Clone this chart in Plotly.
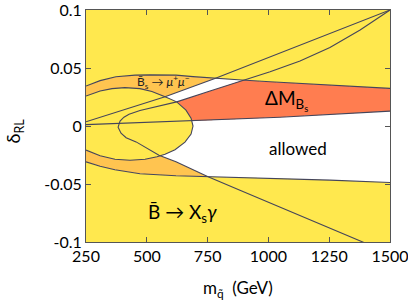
import numpy as np
import plotly.graph_objects as go

# ---------------- data ----------------
x_ticks = [250, 500, 750, 1000, 1250, 1500]
y_ticks = [-0.1, -0.05, 0, 0.05, 0.1]
y_tick_labels = ["-0.1", "-0.05", "0", "0.05", "0.1"]

# outer contour of the B -> Xs gamma allowed band
outer_top_m = [250, 308, 373, 452, 513, 620, 690, 780, 890, 1007, 1253, 1500]
outer_top_d = [0.0345, 0.0391, 0.0424, 0.0439, 0.0441, 0.0439, 0.0426, 0.0410, 0.0396, 0.0381, 0.0353, 0.0324]
outer_bot_m = [250, 308, 369, 472, 620, 752, 1007, 1253, 1500]
outer_bot_d = [-0.0309, -0.0347, -0.0377, -0.0411, -0.0429, -0.0437, -0.0450, -0.0467, -0.0487]

# inner (excluded) loop of B -> Xs gamma
inner_m = [250, 308, 357, 410, 472, 521, 575, 623, 661, 682, 690, 682, 657, 616, 575, 542, 493, 431, 369, 308, 250]
inner_d = [0.0258, 0.0301, 0.0322, 0.0331, 0.0322, 0.0297, 0.0252, 0.0208, 0.0137, 0.0068, -0.0001,
           -0.0070, -0.0139, -0.0204, -0.0243, -0.0265, -0.0286, -0.0295, -0.0286, -0.0256, -0.0208]

# Delta M_Bs boundary lines
lineA_m = [250, 427, 575, 780, 1007, 1253, 1500]
lineA_d = [0.0036, 0.0154, 0.0252, 0.0410, 0.0597, 0.0796, 0.1000]
lineB_m = [250, 472, 719, 1048, 1500]
lineB_d = [0.0012, 0.0029, 0.0046, 0.0076, 0.0128]

# Bs -> mu+ mu- contour (upper and lower branch, both from the vertex)
mumu_up_m = [382, 390, 406, 427, 472, 534, 623, 760, 890, 1007, 1130, 1253, 1377, 1500]
mumu_up_d = [-0.0010, 0.0042, 0.0076, 0.0102, 0.0133, 0.0167, 0.0208, 0.0301, 0.0391, 0.0467, 0.0560,
             0.0676, 0.0827, 0.1000]
mumu_lo_m = [382, 394, 415, 456, 550, 620, 752, 883, 1048, 1212, 1385, 1450]
mumu_lo_d = [-0.0010, -0.0062, -0.0101, -0.0137, -0.0252, -0.0309, -0.0437, -0.0554, -0.0700, -0.0847,
             -0.1000, -0.1055]

# ---------------- styles ----------------
YELLOW = "#FFE84E"
ORANGE = "#FFC450"
RED = "#FF7D50"
WHITE = "#FFFFFF"
LINE = "#45455a"
FONT = "Lato"

# ---------------- region construction ----------------
xs = np.linspace(250, 1500, 2501)
T = np.interp(xs, outer_top_m, outer_top_d)
Bo = np.interp(xs, outer_bot_m, outer_bot_d)
A = np.interp(xs, lineA_m, lineA_d)
B = np.interp(xs, lineB_m, lineB_d)
C = np.interp(xs, mumu_up_m, mumu_up_d)
E = np.interp(xs, mumu_lo_m, mumu_lo_d)


def band_clip(v):
    return np.minimum(np.maximum(v, Bo), T)


def strip(x, top, bot, color):
    return go.Scatter(x=np.concatenate([x, x[::-1]]), y=np.concatenate([top, bot[::-1]]),
                      mode="none", fill="toself", fillcolor=color, hoverinfo="skip",
                      showlegend=False)


fig = go.Figure()
# allowed band (white base)
fig.add_trace(strip(xs, T, Bo, WHITE))
# orange above line A
fig.add_trace(strip(xs, T, band_clip(A), ORANGE))
# orange outside lower branch of Bs->mumu
fig.add_trace(strip(xs, band_clip(E), Bo, ORANGE))
# red: Delta M_Bs excluded
mask = xs >= mumu_up_m[0]
rt = band_clip(C)[mask]
rb = band_clip(B)[mask]
rt = np.maximum(rt, rb)
fig.add_trace(strip(xs[mask], rt, rb, RED))
# inner loop (yellow)
fig.add_trace(go.Scatter(x=inner_m, y=inner_d, mode="none", fill="toself", fillcolor=YELLOW,
                         hoverinfo="skip", showlegend=False))

# boundary lines
mumu_m = list(mumu_up_m[::-1]) + list(mumu_lo_m[1:])
mumu_d = list(mumu_up_d[::-1]) + list(mumu_lo_d[1:])
for mm, dd in [(outer_top_m, outer_top_d), (outer_bot_m, outer_bot_d), (inner_m, inner_d),
               (lineA_m, lineA_d), (lineB_m, lineB_d), (mumu_m, mumu_d)]:
    fig.add_trace(go.Scatter(x=mm, y=dd, mode="lines", line=dict(color=LINE, width=1.1),
                             hoverinfo="skip", showlegend=False))

# labels
fig.add_annotation(x=1122, y=-0.0191, text="allowed", showarrow=False,
                   font=dict(family=FONT, size=17, color="black"))
fig.add_annotation(x=1075, y=0.0223, text="ΔM<sub>B<sub>s</sub></sub>", showarrow=False,
                   font=dict(family=FONT, size=19, color="black"))
fig.add_annotation(x=645, y=-0.0752, text="B\u0304 → X<sub>s</sub><i>γ</i>", showarrow=False,
                   font=dict(family=FONT, size=19, color="black"))
fig.add_annotation(x=567, y=0.0378, text="B\u0304<sub>s</sub> → <i>μ</i><sup>+</sup><i>μ</i><sup>−</sup>",
                   showarrow=False, font=dict(family=FONT, size=12, color="#222"))
# axis titles
fig.add_annotation(xref="paper", yref="paper", x=0.5, y=-0.204, xanchor="center", yanchor="middle",
                   text="m<sub>q\u0303</sub>  (GeV)",
                   showarrow=False, font=dict(family=FONT, size=17, color="black"))
fig.add_annotation(xref="paper", yref="paper", x=-0.234, y=0.48, xanchor="center", yanchor="middle",
                   text="δ<sub>RL</sub>", textangle=-90,
                   showarrow=False, font=dict(family=FONT, size=18, color="black"))

axis_common = dict(showgrid=False, zeroline=False, showline=True, linecolor="#555", linewidth=1,
                   mirror="ticks", ticks="inside", ticklen=5, tickcolor="#555", automargin=False,
                   ticklabeloverflow="allow",
                   tickfont=dict(family=FONT, size=16, color="black"))
fig.update_xaxes(range=[250, 1500], tickvals=x_ticks, ticktext=[str(v) for v in x_ticks], **axis_common)
fig.update_yaxes(range=[-0.1, 0.1], tickvals=y_ticks, ticktext=y_tick_labels, **axis_common)

fig.update_layout(width=408, height=300, margin=dict(l=86, r=18, t=10, b=58),
                  plot_bgcolor=YELLOW, paper_bgcolor="white", showlegend=False)

fig.write_html("out.html", config={"displayModeBar": False},
               post_script="document.body.style.margin='0';document.body.style.overflow='hidden';")
